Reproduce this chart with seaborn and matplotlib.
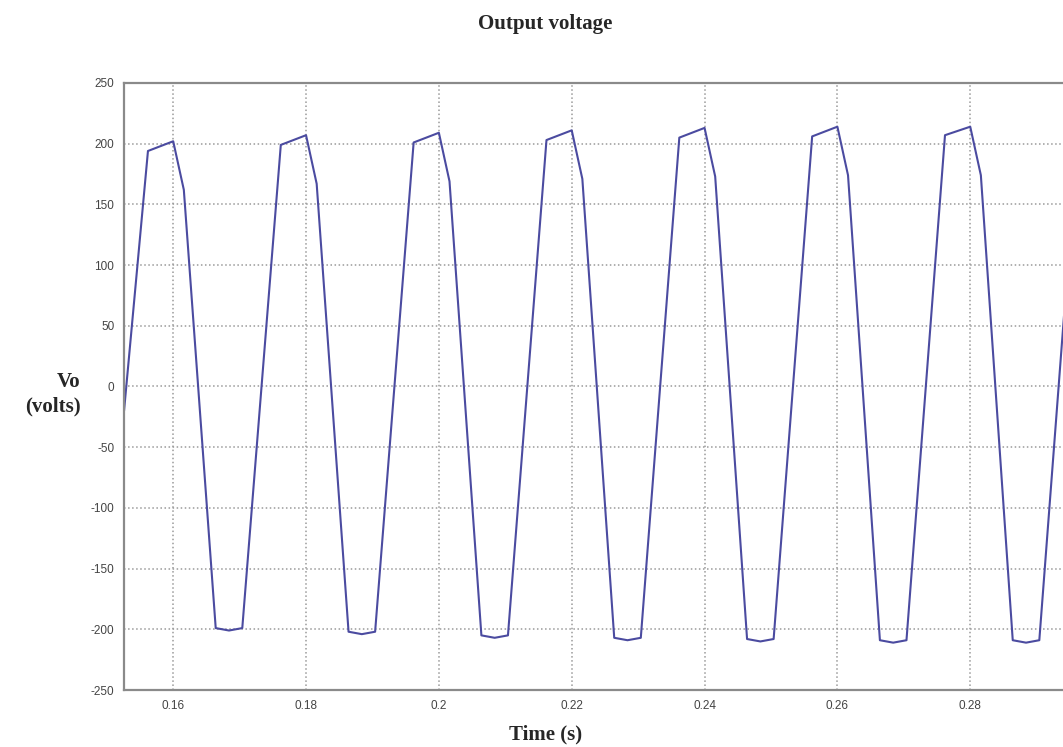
import matplotlib
matplotlib.use("Agg")
import matplotlib.pyplot as plt
import seaborn as sns
import pandas as pd
import numpy as np

# -------------------- Data --------------------

time_s = [
    0.1526,
    0.1562, 0.1600, 0.1616, 0.1664, 0.1684, 0.1704,
    0.1762, 0.1800, 0.1816, 0.1864, 0.1884, 0.1904,
    0.1962, 0.2000, 0.2016, 0.2064, 0.2084, 0.2104,
    0.2162, 0.2200, 0.2216, 0.2264, 0.2284, 0.2304,
    0.2362, 0.2400, 0.2416, 0.2464, 0.2484, 0.2504,
    0.2562, 0.2600, 0.2616, 0.2664, 0.2684, 0.2704,
    0.2762, 0.2800, 0.2816, 0.2864, 0.2884, 0.2904,
    0.2962, 0.3000,
]
vo_volts = [
    -20,
    194, 202, 162, -199, -201, -199,
    199, 207, 167, -202, -204, -202,
    201, 209, 169, -205, -207, -205,
    203, 211, 171, -207, -209, -207,
    205, 213, 173, -208, -210, -208,
    206, 214, 174, -209, -211, -209,
    207, 214, 174, -209, -211, -209,
    208, 215,
]

x_ticks = [0.16, 0.18, 0.20, 0.22, 0.24, 0.26, 0.28]
x_ticklabels = ["0.16", "0.18", "0.2", "0.22", "0.24", "0.26", "0.28"]
y_ticks = [-250, -200, -150, -100, -50, 0, 50, 100, 150, 200, 250]

df = pd.DataFrame({"time": time_s, "vo": vo_volts})

# -------------------- Plot --------------------

sns.set_style("white")
plt.rcParams["font.family"] = ["Liberation Sans", "DejaVu Sans"]

fig = plt.figure(figsize=(10.63, 7.47), dpi=100)
fig.patch.set_facecolor("white")
# axes run past the right edge of the image, as in the cropped reference
ax = fig.add_axes([0.1167, 0.0763, 0.921, 0.8126])

sns.lineplot(data=df, x="time", y="vo", sort=False, estimator=None,
             color="#4b4ba0", linewidth=1.5, ax=ax)

ax.set_xlim(0.1526, 0.30)
ax.set_ylim(-250, 250)
ax.set_xticks(x_ticks)
ax.set_xticklabels(x_ticklabels)
ax.set_yticks(y_ticks)
ax.set_yticklabels([str(v) for v in y_ticks])

ax.grid(True, linestyle=":", color="#9a9a9a", linewidth=1.1)
ax.set_axisbelow(True)
for spine in ax.spines.values():
    spine.set_visible(True)
    spine.set_color("#8a8a8a")
    spine.set_linewidth(1.6)

ax.tick_params(axis="both", direction="in", length=4, width=1.2,
               color="#8a8a8a", labelsize=8.5, labelcolor="#444444", pad=7)
ax.set_xlabel("")
ax.set_ylabel("")

serif = ["Liberation Serif", "DejaVu Serif"]
fig.text(0.513, 0.968, "Output voltage", ha="center", va="center",
         fontsize=15, fontweight="bold", family=serif)
fig.text(0.513, 0.017, "Time (s)", ha="center", va="center",
         fontsize=15, fontweight="bold", family=serif)
fig.text(0.076, 0.472, "Vo\n(volts)", ha="right", va="center",
         multialignment="right", linespacing=1.3,
         fontsize=15, fontweight="bold", family=serif)

fig.savefig("out.png", dpi=100)
